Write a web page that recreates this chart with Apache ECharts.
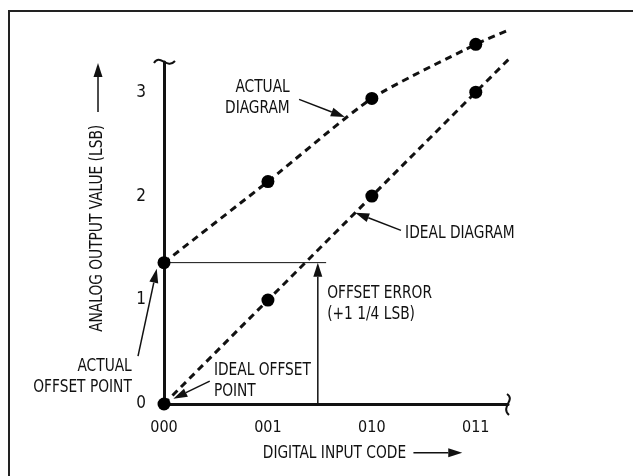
<!DOCTYPE html>
<html>
<head>
<meta charset="utf-8">
<script src="https://cdn.jsdelivr.net/npm/echarts@6/dist/echarts.min.js"></script>
<style>
  html, body { margin: 0; padding: 0; background: #fff; }
  #chart { width: 633px; height: 476px; }
</style>
</head>
<body>
<div id="chart"></div>
<script>
// codes on the x axis
var codes = ['000', '001', '010', '011'];
// ideal transfer: points and the straight line through them
var idealX = [0, 1, 2, 3];
var idealY = [0, 1, 2, 3];
var idealLineX = [0, 3.4];
var idealLineY = [0, 3.4];
// actual transfer (offset by ~1 1/4 LSB)
var actualX = [0, 1, 2, 3];
var actualY = [1.36, 2.14, 2.94, 3.46];
var actualLineX = [0, 1, 2, 3, 3.37];
var actualLineY = [1.36, 2.14, 2.94, 3.46, 3.62];
var offsetLevel = 1.36;
var offsetArrowX = 1.48;
var offsetLineEnd = 1.56;

var font = "'DejaVu Sans Condensed', 'DejaVu Sans', sans-serif";
var ink = '#111';
var squeeze = 0.9; // the original lettering is narrower than any installed face

function pairs(xs, ys) {
  return xs.map(function (x, i) { return [x, ys[i]]; });
}

var chart = echarts.init(document.getElementById('chart'));

chart.setOption({
  animation: false,
  grid: { left: 164, top: 62, width: 344, height: 342 },
  xAxis: {
    type: 'value', min: 0, max: 3.31, interval: 1,
    axisLine: { lineStyle: { color: ink, width: 3 } },
    axisTick: { show: false },
    splitLine: { show: false },
    axisLabel: {
      showMaxLabel: false, margin: 16, color: ink, fontSize: 16, fontFamily: font,
      formatter: function (v) { return codes[v] || ''; }
    }
  },
  yAxis: {
    type: 'value', min: 0, max: 3.29, interval: 1,
    axisLine: { lineStyle: { color: ink, width: 3 } },
    axisTick: { show: false },
    splitLine: { show: false },
    axisLabel: { showMaxLabel: false, margin: 18, color: ink, fontSize: 17, fontFamily: font }
  },
  series: [
    {
      name: 'ideal', type: 'line', data: pairs(idealLineX, idealLineY),
      showSymbol: false, clip: false,
      lineStyle: { color: ink, width: 3, type: [7, 5] }
    },
    {
      name: 'actual', type: 'line', data: pairs(actualLineX, actualLineY),
      showSymbol: false, clip: false, smooth: 0.2,
      lineStyle: { color: ink, width: 3, type: [7, 5] }
    },
    {
      name: 'offset', type: 'line', data: [[0, offsetLevel], [offsetLineEnd, offsetLevel]],
      showSymbol: false, lineStyle: { color: ink, width: 1 }
    },
    {
      type: 'scatter', data: pairs(idealX, idealY), symbolSize: 13, clip: false, z: 5,
      itemStyle: { color: '#000', opacity: 1 }
    },
    {
      type: 'scatter', data: pairs(actualX, actualY), symbolSize: 13, clip: false, z: 5,
      itemStyle: { color: '#000', opacity: 1 }
    }
  ]
});

// annotations, placed in data units
var notes = [
  { text: 'ACTUAL\nDIAGRAM', at: [1.21, 2.94], align: 'right' },
  { text: 'IDEAL DIAGRAM', at: [2.32, 1.64], align: 'left' },
  { text: 'ACTUAL\nOFFSET POINT', at: [-0.31, 0.26], align: 'right' },
  { text: 'IDEAL OFFSET\nPOINT', at: [0.48, 0.22], align: 'left' },
  { text: 'OFFSET ERROR\n(+1 1/4 LSB)', at: [1.57, 0.96], align: 'left' },
  { text: 'DIGITAL INPUT CODE', at: [1.64, -0.48], align: 'center' },
  { text: 'ANALOG OUTPUT VALUE (LSB)', at: [-0.635, 1.69], align: 'center', rotate: true }
];
var pointers = [
  { from: [1.30, 2.93], to: [1.74, 2.76] },
  { from: [2.28, 1.67], to: [1.84, 1.84] },
  { from: [-0.25, 0.46], to: [-0.07, 1.30] },
  { from: [0.44, 0.22], to: [0.09, 0.05] },
  { from: [offsetArrowX, 0], to: [offsetArrowX, offsetLevel] },
  { from: [2.40, -0.47], to: [2.87, -0.47] },
  { from: [-0.635, 2.81], to: [-0.635, 3.28] }
];

function px(p) { return chart.convertToPixel({ gridIndex: 0 }, p); }

var els = [];
notes.forEach(function (n) {
  var p = px(n.at);
  els.push({
    type: 'text', x: p[0], y: p[1], rotation: n.rotate ? Math.PI / 2 : 0, scaleX: squeeze,
    style: {
      text: n.text, fill: ink, font: '17px ' + font, lineHeight: 21,
      align: n.align, verticalAlign: 'middle'
    }
  });
});
pointers.forEach(function (a) {
  var s = px(a.from), e = px(a.to);
  var dx = e[0] - s[0], dy = e[1] - s[1], len = Math.sqrt(dx * dx + dy * dy);
  var ux = dx / len, uy = dy / len, hl = 14, hw = 4.5;
  var bx = e[0] - ux * hl, by = e[1] - uy * hl;
  els.push({
    type: 'line', shape: { x1: s[0], y1: s[1], x2: bx, y2: by },
    style: { stroke: ink, lineWidth: 1.5 }
  });
  els.push({
    type: 'polygon',
    shape: { points: [[e[0], e[1]], [bx - uy * hw, by + ux * hw], [bx + uy * hw, by - ux * hw]] },
    style: { fill: ink }
  });
});

// axis break marks
var yTop = px([0, 3.29]), xEnd = px([3.31, 0]);
els.push({
  type: 'bezierCurve',
  shape: { x1: yTop[0] - 10, y1: yTop[1] + 1, cpx1: yTop[0] - 4, cpy1: yTop[1] - 9, cpx2: yTop[0] + 3, cpy2: yTop[1] + 8, x2: yTop[0] + 11, y2: yTop[1] - 1 },
  style: { stroke: ink, lineWidth: 2, fill: null }
});
els.push({
  type: 'bezierCurve',
  shape: { x1: xEnd[0] - 1, y1: xEnd[1] - 10, cpx1: xEnd[0] + 8, cpy1: xEnd[1] - 4, cpx2: xEnd[0] - 8, cpy2: xEnd[1] + 3, x2: xEnd[0] + 1, y2: xEnd[1] + 11 },
  style: { stroke: ink, lineWidth: 2, fill: null }
});

// frame (left and top edges visible)
els.push({ type: 'polyline', shape: { points: [[9, 476], [9, 11], [633, 11]] }, style: { stroke: '#222', lineWidth: 2, fill: null } });

chart.setOption({ graphic: els });
</script>
</body>
</html>
